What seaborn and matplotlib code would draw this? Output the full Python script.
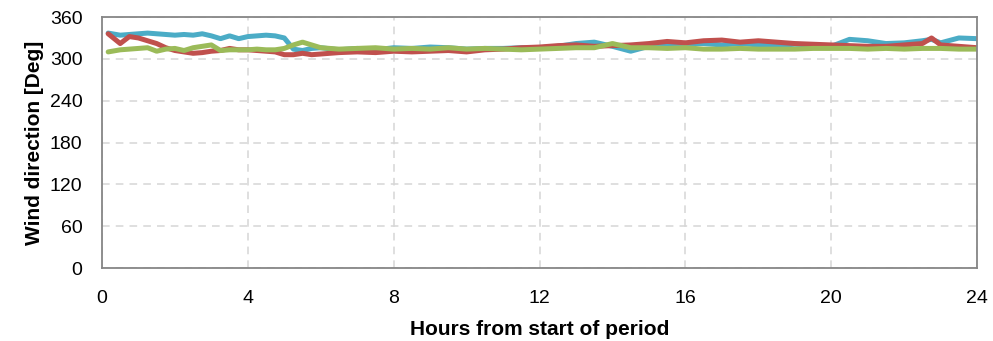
import matplotlib
matplotlib.use("Agg")
import matplotlib.pyplot as plt
import seaborn as sns
import pandas as pd

hours = [0.17, 0.5, 0.75, 1.0, 1.25, 1.5, 1.75, 2.0, 2.25, 2.5, 2.75, 3.0, 3.25, 3.5, 3.75,
         4.0, 4.25, 4.5, 4.75, 5.0, 5.25, 5.5, 5.75, 6.0, 6.5, 7.0, 7.5, 8.0, 8.5, 9.0, 9.5,
         10.0, 10.5, 11.0, 11.5, 12.0, 12.5, 13.0, 13.5, 14.0, 14.5, 15.0, 15.5, 16.0, 16.5,
         17.0, 17.5, 18.0, 18.5, 19.0, 19.5, 20.0, 20.5, 21.0, 21.5, 22.0, 22.5, 22.75, 23.0,
         23.5, 24.0]

series_blue = [337, 334, 335, 336, 337, 336, 335, 334, 335, 334, 336, 333, 329, 333, 329,
               332, 333, 334, 333, 330, 314, 312, 315, 316, 313, 315, 313, 316, 315, 317, 316,
               314, 315, 315, 316, 316, 318, 322, 324, 318, 311, 318, 320, 322, 322,
               320, 322, 320, 319, 321, 320, 318, 328, 326, 322, 323, 326, 328, 323,
               330, 329]

series_red = [336, 322, 332, 330, 326, 322, 316, 312, 310, 308, 309, 311, 312, 315, 313,
              313, 312, 311, 310, 306, 306, 308, 306, 307, 309, 310, 309, 311, 310, 311, 312,
              310, 313, 314, 316, 317, 319, 320, 318, 319, 320, 322, 325, 323, 326,
              327, 324, 326, 324, 322, 321, 320, 319, 318, 318, 320, 322, 330, 320,
              318, 316]

series_green = [310, 313, 314, 315, 316, 311, 314, 315, 312, 316, 318, 320, 312, 313, 313,
                313, 314, 313, 313, 315, 320, 324, 320, 316, 314, 315, 316, 314, 315, 314, 316,
                314, 315, 314, 313, 314, 315, 316, 316, 322, 316, 316, 315, 316, 314,
                314, 315, 314, 314, 314, 315, 315, 315, 314, 315, 314, 315, 315, 315,
                314, 314]

names = ["A", "B", "C"]
colors = ["#4BACC6", "#C0504D", "#9BBB59"]

x_ticks = [0, 4, 8, 12, 16, 20, 24]
y_ticks = [0, 60, 120, 180, 240, 300, 360]

frames = []
for name, vals in zip(names, [series_blue, series_red, series_green]):
    frames.append(pd.DataFrame({"hours": hours, "dir": vals, "series": name}))
df = pd.concat(frames, ignore_index=True)

sns.set_theme(style="white")
plt.rcParams['font.family'] = ['Liberation Sans', 'DejaVu Sans']

fig = plt.figure(figsize=(9.93, 3.41), dpi=100)
ax = fig.add_axes([0.1027, 0.214, 0.8813, 0.736])

sns.lineplot(data=df, x="hours", y="dir", hue="series", palette=colors,
             linewidth=3.6, legend=False, ax=ax, estimator=None, sort=False)

ax.set_xlim(0, 24)
ax.set_ylim(0, 360)
ax.set_xticks(x_ticks)
ax.set_yticks(y_ticks)
ax.set_xticklabels([str(t) for t in x_ticks])
ax.set_yticklabels([str(t) for t in y_ticks])
ax.grid(True, color="#D6D6D6", linestyle=(0, (5, 4)), linewidth=1.1)
ax.set_axisbelow(True)
for s in ax.spines.values():
    s.set_color("#868686")
    s.set_linewidth(1.3)
ax.tick_params(axis="both", which="major", direction="out", length=5, width=1.3,
               color="#868686", labelsize=14, labelcolor="black")
ax.tick_params(axis="y", pad=9)
ax.tick_params(axis="x", pad=11)
ax.set_xlabel("Hours from start of period", fontsize=15, fontweight="bold",
              labelpad=9, color="black")
ax.set_ylabel("Wind direction [Deg]", fontsize=15, fontweight="bold",
              labelpad=4, color="black")

fig.savefig("out.png", dpi=100)
